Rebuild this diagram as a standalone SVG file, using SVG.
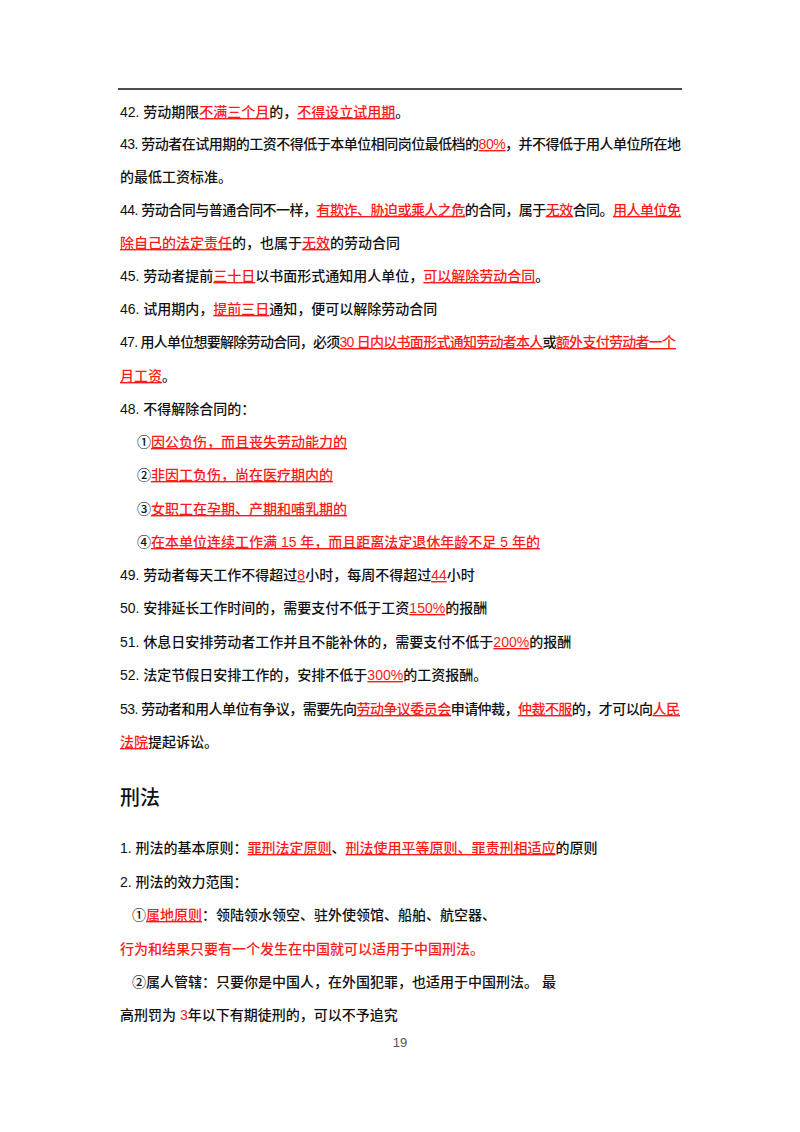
<svg xmlns="http://www.w3.org/2000/svg" width="800" height="1132" viewBox="0 0 800 1132">
<style>
text{font-family:"Liberation Sans","Noto Sans CJK SC",sans-serif;font-size:14px;font-weight:500;fill:#111}
.r{fill:#ff1a1a}
.u{fill:#ff1a1a;text-decoration:underline}
.h{font-size:20px}
.p{font-size:13px;fill:#555;font-weight:400}
</style>
<rect width="800" height="1132" fill="#fff"/>
<line x1="118" y1="89" x2="682" y2="89" stroke="#111" stroke-width="1.5"/>
<text x="120" y="117">42. 劳动期限<tspan class="u">不满三个月</tspan>的，<tspan class="u">不得设立试用期</tspan>。</text>
<text x="120" y="149" textLength="561" lengthAdjust="spacing">43. 劳动者在试用期的工资不得低于本单位相同岗位最低档的<tspan class="u">80%</tspan>，并不得低于用人单位所在地</text>
<text x="120" y="182">的最低工资标准。</text>
<text x="120" y="215" textLength="561" lengthAdjust="spacing">44. 劳动合同与普通合同不一样，<tspan class="u">有欺诈、胁迫或乘人之危</tspan>的合同，属于<tspan class="u">无效</tspan>合同。<tspan class="u">用人单位免</tspan></text>
<text x="120" y="248"><tspan class="u">除自己的法定责任</tspan>的，也属于<tspan class="u">无效</tspan>的劳动合同</text>
<text x="120" y="281">45. 劳动者提前<tspan class="u">三十日</tspan>以书面形式通知用人单位，<tspan class="u">可以解除劳动合同</tspan>。</text>
<text x="120" y="314">46. 试用期内，<tspan class="u">提前三日</tspan>通知，便可以解除劳动合同</text>
<text x="120" y="347" textLength="556" lengthAdjust="spacing">47. 用人单位想要解除劳动合同，必须<tspan class="u">30 日内以书面形式通知劳动者本人</tspan>或<tspan class="u">额外支付劳动者一个</tspan></text>
<text x="120" y="381"><tspan class="u">月工资</tspan>。</text>
<text x="120" y="414">48. 不得解除合同的：</text>
<text x="137" y="447">①<tspan class="u">因公负伤，而且丧失劳动能力的</tspan></text>
<text x="137" y="480">②<tspan class="u">非因工负伤，尚在医疗期内的</tspan></text>
<text x="137" y="514">③<tspan class="u">女职工在孕期、产期和哺乳期的</tspan></text>
<text x="137" y="547">④<tspan class="u">在本单位连续工作满 15 年，而且距离法定退休年龄不足 5 年的</tspan></text>
<text x="120" y="580">49. 劳动者每天工作不得超过<tspan class="u">8</tspan>小时，每周不得超过<tspan class="u">44</tspan>小时</text>
<text x="120" y="613">50. 安排延长工作时间的，需要支付不低于工资<tspan class="u">150%</tspan>的报酬</text>
<text x="120" y="647">51. 休息日安排劳动者工作并且不能补休的，需要支付不低于<tspan class="u">200%</tspan>的报酬</text>
<text x="120" y="680">52. 法定节假日安排工作的，安排不低于<tspan class="u">300%</tspan>的工资报酬。</text>
<text x="120" y="714" textLength="560" lengthAdjust="spacing">53. 劳动者和用人单位有争议，需要先向<tspan class="u">劳动争议委员会</tspan>申请仲裁，<tspan class="u">仲裁不服</tspan>的，才可以向<tspan class="u">人民</tspan></text>
<text x="120" y="747"><tspan class="u">法院</tspan>提起诉讼。</text>
<text x="120" y="805" class="h">刑法</text>
<text x="120" y="853">1. 刑法的基本原则：<tspan class="u">罪刑法定原则</tspan>、<tspan class="u">刑法使用平等原则、罪责刑相适应</tspan>的原则</text>
<text x="120" y="887">2. 刑法的效力范围：</text>
<text x="132" y="920">①<tspan class="u">属地原则</tspan>：领陆领水领空、驻外使领馆、船舶、航空器、</text>
<text x="120" y="954" class="r">行为和结果只要有一个发生在中国就可以适用于中国刑法。</text>
<text x="132" y="987">②属人管辖：只要你是中国人，在外国犯罪，也适用于中国刑法。 最</text>
<text x="120" y="1020">高刑罚为 <tspan class="r">3</tspan>年以下有期徒刑的，可以不予追究</text>
<text x="400" y="1047" class="p" text-anchor="middle">19</text>
</svg>
